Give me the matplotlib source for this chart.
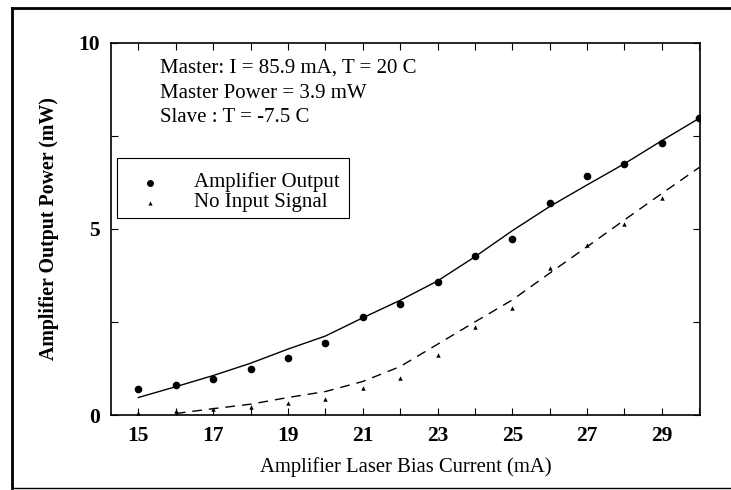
import matplotlib
matplotlib.use("Agg")
import matplotlib.pyplot as plt
from matplotlib.lines import Line2D
from matplotlib.patches import Rectangle
from matplotlib.ticker import MultipleLocator, FixedLocator

plt.rcParams["font.family"] = ["Liberation Serif", "DejaVu Serif"]

# Measured points
bias_ma = [15, 16, 17, 18, 19, 20, 21, 22, 23, 24, 25, 26, 27, 28, 29, 30]
amp_output_mw = [0.69, 0.81, 0.98, 1.24, 1.52, 1.93, 2.62, 2.97, 3.58, 4.27,
                 4.72, 5.69, 6.41, 6.74, 7.30, 7.97]
no_input_x = [15, 16, 17, 18, 19, 20, 21, 22, 23, 24, 25, 26, 27, 28, 29]
no_input_mw = [0.05, 0.10, 0.17, 0.22, 0.31, 0.43, 0.72, 1.00, 1.61, 2.37,
               2.87, 3.96, 4.57, 5.12, 5.82]

# Smooth fit curves
fit_amp_x = [15, 16, 17, 18, 19, 20, 21, 22, 23, 24, 25, 26, 27, 28, 29, 30]
fit_amp_mw = [0.47, 0.76, 1.06, 1.39, 1.77, 2.12, 2.61, 3.08, 3.60, 4.25,
              4.95, 5.60, 6.18, 6.75, 7.37, 7.97]
fit_noin_x = [16, 17, 18, 19, 20, 21, 22, 23, 24, 25, 26, 27, 28, 29, 30]
fit_noin_mw = [0.04, 0.17, 0.29, 0.47, 0.63, 0.90, 1.30, 1.90, 2.50, 3.09,
               3.81, 4.52, 5.24, 5.95, 6.65]

x_tick_labels = [15, 17, 19, 21, 23, 25, 27, 29]
y_tick_labels = [0, 5, 10]
legend_labels = ["Amplifier Output", "No Input Signal"]

W, H = 731, 490
fig = plt.figure(figsize=(W / 100, H / 100), dpi=100)
ax = fig.add_axes([110.7 / W, 1 - 415 / H, (700 - 110.7) / W, (415 - 42.7) / H])


def fx(px):
    return px / W


def fy(py):
    return 1 - py / H


ax.plot(fit_amp_x, fit_amp_mw, color="black", lw=1.0)
ax.plot(fit_noin_x, fit_noin_mw, color="black", lw=1.0, dashes=(7, 5))
ax.plot(bias_ma, amp_output_mw, "o", color="black", ms=5.5, mew=0)
ax.plot(no_input_x, no_input_mw, "^", color="black", ms=3.2, mew=0)

ax.set_xlim(14.26, 30.02)
ax.set_ylim(0, 10)
ax.xaxis.set_major_locator(FixedLocator(x_tick_labels))
ax.xaxis.set_minor_locator(MultipleLocator(1))
ax.yaxis.set_major_locator(FixedLocator(y_tick_labels))
ax.yaxis.set_minor_locator(MultipleLocator(2.5))
ax.tick_params(which="both", direction="in", top=True, right=True,
               length=5, width=0.8, labelsize=15.5)
for lab in ax.get_xticklabels() + ax.get_yticklabels():
    lab.set_fontweight("bold")
ax.tick_params(axis="x", pad=8)
ax.tick_params(axis="y", pad=8)
for s in ax.spines.values():
    s.set_linewidth(1.2)

ax.set_xlabel("Amplifier Laser Bias Current (mA)", fontsize=14.9, labelpad=8)
ax.set_ylabel("Amplifier Output Power (mW)", fontsize=14.3, fontweight="bold",
              labelpad=14)

notes = ["Master: I = 85.9 mA, T = 20 C",
         "Master Power = 3.9 mW",
         "Slave : T = -7.5 C"]
for i, t in enumerate(notes):
    fig.text(fx(160), fy(68 + 25 * i), t, fontsize=15,
             ha="left", va="center")

# Legend box drawn by hand
fig.add_artist(Rectangle((fx(116.7), fy(218)), fx(349) - fx(116.7),
                         fy(158) - fy(218), transform=fig.transFigure,
                         facecolor="white", edgecolor="black", lw=0.8))
fig.add_artist(Line2D([fx(150)], [fy(183)], transform=fig.transFigure,
                      ls="none", marker="o", color="black", ms=5, mew=0))
fig.add_artist(Line2D([fx(150)], [fy(203)], transform=fig.transFigure,
                      ls="none", marker="^", color="black", ms=3, mew=0))
for i, t in enumerate(legend_labels):
    fig.text(fx(193.5), fy(182 + 20 * i), t, fontsize=15,
             ha="left", va="center")

# Outer frame
fig.add_artist(Line2D([fx(12), fx(12)], [fy(488), fy(8)],
                      transform=fig.transFigure, color="black", lw=2))
fig.add_artist(Line2D([fx(12), 1.0], [fy(8), fy(8)],
                      transform=fig.transFigure, color="black", lw=2))
fig.add_artist(Line2D([fx(12), 1.0], [fy(488), fy(488)],
                      transform=fig.transFigure, color="black", lw=1))

fig.savefig("out.png", dpi=100)
